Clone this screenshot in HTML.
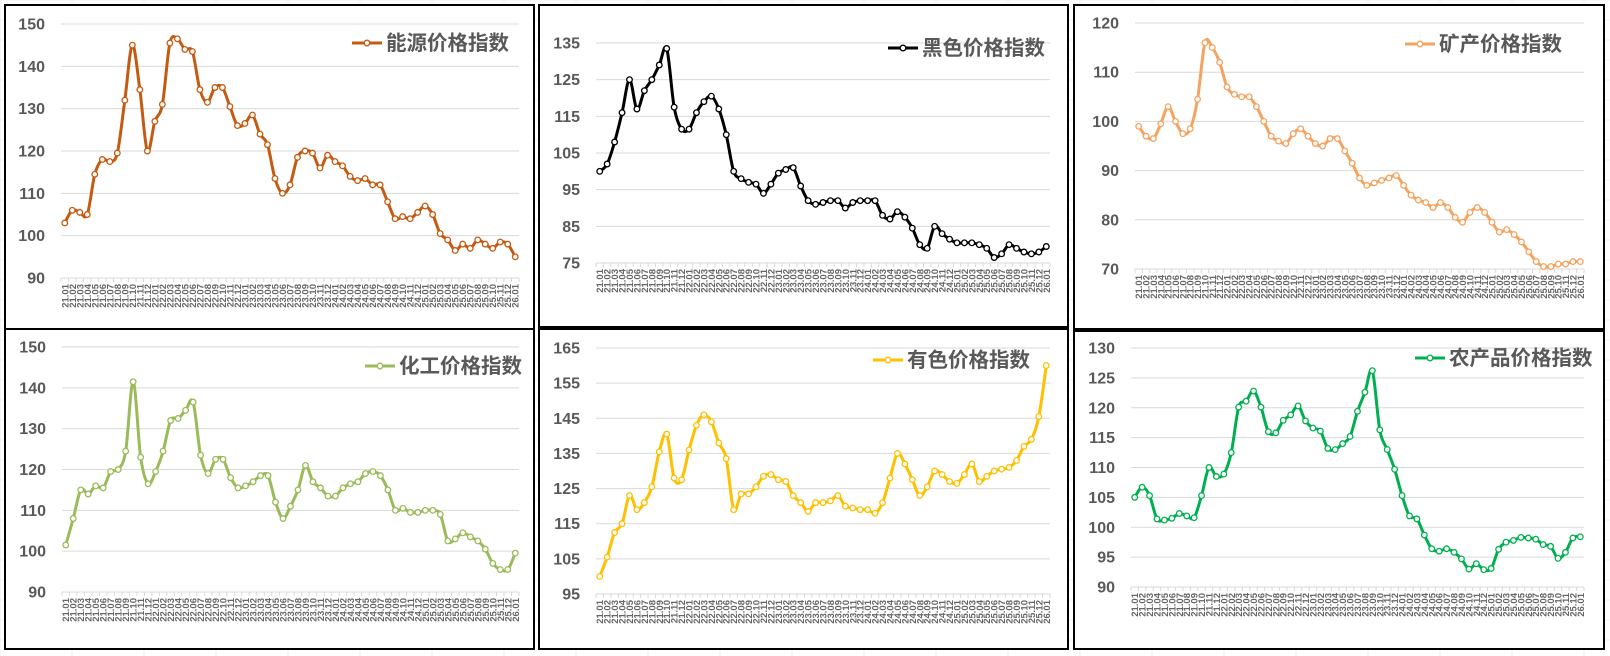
<!DOCTYPE html>
<html><head><meta charset="utf-8">
<style>
html,body{margin:0;padding:0;background:#fff;}
svg{display:block;}
text{font-family:"Liberation Sans","Noto Sans CJK SC",sans-serif;}
</style></head>
<body>
<svg id="s" width="1610" height="656" xmlns="http://www.w3.org/2000/svg"></svg>
<script>
const P=[
{box:[5,5,529,328],pl:61,pr:519,yt:24,yb:278,min:90,max:150,step:10,col:"#C55A11",name:"能源价格指数",lg:[352,43],
d:[103,106,105.5,105,114.5,118,117.5,119.5,132,145,134.5,120,127,131,145.5,146.5,144,143.5,134.5,131.5,135,135,130.5,126,126.5,128.5,124,121.5,113.5,110,112,118.5,120,119.5,116,119,117.5,116.5,114,113,113.5,112,112,108,104,104.5,104,105.5,107,105,100.5,99,96.5,98,97,99,98,97,98.5,98,95]},
{box:[539,5,529,322],pl:596,pr:1050,yt:43,yb:263,min:75,max:135,step:10,col:"#000000",name:"黑色价格指数",lg:[888,48],
d:[100,102,108,116,125,117,122,125,129,133.5,117.5,111.5,111.5,116,119,120.5,117,110,100,98,97,96.5,94,96.5,99.5,100.5,101,96,92,91,91.5,92,92,90,91.5,92,92,92,88,87,89,87.5,84.5,80,79,85,83,81.5,80.5,80.5,80.5,80,79,76.5,77.5,80,79,78,77.5,78,79.5]},
{box:[1074,5,530,324],pl:1135,pr:1584,yt:23,yb:269,min:70,max:120,step:10,col:"#F4A460",name:"矿产价格指数",lg:[1405,44],
d:[99,97,96.5,99.5,103,100,97.5,98.5,104.5,116,115,112,107,105.5,105,105,103,100,97,96,95.5,97.5,98.5,97,95.5,95,96.5,96.5,94,91.5,88.5,87,87.5,88,88.5,89,87,85,84,83.5,82.5,83.5,82.5,80.5,79.5,81.5,82.5,81.5,79.5,77.5,78,77,75.5,73.5,71.5,70.5,70.5,71,71,71.5,71.5]},
{box:[5,329,529,320],pl:62,pr:519,yt:347,yb:592,min:90,max:150,step:10,col:"#9BBB59",name:"化工价格指数",lg:[365,366],
d:[101.5,108,115,114,116,115.5,119.5,120,124.5,141.5,123,116.5,119.5,124.5,132,132.5,134.5,136.5,123.5,119,122.5,122.5,118,115.5,116,117,118.5,118.5,112,108,111,115,121,117,115.5,113.5,113.5,115.5,116.5,117,119,119.5,118.5,115,110,110.5,109.5,109.5,110,110,109,102.5,103,104.5,103.5,102.5,100.5,97,95.5,95.5,99.5]},
{box:[539,329,529,320],pl:596,pr:1050,yt:348,yb:594,min:95,max:165,step:10,col:"#FFC000",name:"有色价格指数",lg:[873,360],
d:[100,105.5,112.5,115,123,119,121,125.5,135.5,140.5,128,127.5,136,143,146,144,138,133.5,119,123.5,123.5,125.5,128.5,129,127.5,127,123,121,118.5,121,121,121.5,123,120,119.5,119,119,118,121,128,135,132,127.5,123,125.5,130,129,127,126.5,129,132,127,128.5,130,130.5,131,133,137,139,145.5,160]},
{box:[1074,331,530,318],pl:1131,pr:1584,yt:348,yb:587,min:90,max:130,step:5,col:"#00B050",name:"农产品价格指数",lg:[1415,358],
d:[105,106.7,105.3,101.4,101.2,101.5,102.3,101.9,101.6,105.3,110,108.5,108.9,112.5,120.1,121.1,122.8,120.1,116,115.8,117.9,118.8,120.3,117.8,116.6,116.1,113.2,113,114,115.2,119.4,122.6,126.2,116.3,113,109.7,105.3,101.9,101.4,98.7,96.4,96,96.4,95.8,94.7,93,93.9,92.9,93.1,96.3,97.5,97.8,98.3,98.2,98,97.1,96.8,94.8,95.8,98.2,98.4]}
];
const labs=[];for(let y=21;y<=26;y++)for(let m=1;m<=12;m++){if(labs.length<61)labs.push(y+"."+String(m).padStart(2,"0"));}
let h='';
for(let x=0;x<1610;x+=72)h+=`<line x1="${x}" y1="0" x2="${x}" y2="656" stroke="#ececec" stroke-width="1"/>`;
for(let y=0;y<656;y+=20)h+=`<line x1="0" y1="${y}" x2="1610" y2="${y}" stroke="#f2f2f2" stroke-width="1"/>`;
for(const p of P){
 const [bx,by,bw,bh]=p.box;
 h+=`<rect x="${bx}" y="${by}" width="${bw}" height="${bh}" fill="#fff" stroke="#000" stroke-width="2"/>`;
 const Y=v=>p.yb-(v-p.min)/(p.max-p.min)*(p.yb-p.yt);
 for(let v=p.min;v<=p.max+0.01;v+=p.step){
  const y=Y(v);
  h+=`<line x1="${p.pl}" y1="${y}" x2="${p.pr}" y2="${y}" stroke="#d9d9d9" stroke-width="1"/>`;
  h+=`<text x="${p.pl-16}" y="${y+5.5}" text-anchor="end" font-size="16" font-weight="bold" fill="#595959">${v}</text>`;
 }
 const n=p.d.length, dx=(p.pr-p.pl)/(n);
 const X=i=>p.pl+dx*(i+0.5);
 for(let i=0;i<=n;i++){const x=p.pl+dx*i;h+=`<line x1="${x}" y1="${p.yb}" x2="${x}" y2="${p.yb+4}" stroke="#d9d9d9"/>`;}
 for(let i=0;i<n;i++){const x=X(i)+3.5,y=p.yb+6;
  h+=`<text transform="translate(${x},${y}) rotate(-90)" text-anchor="end" font-size="9.5" font-weight="bold" fill="#666">${labs[i]}</text>`;}
 const pts=p.d.map((v,i)=>[X(i),Y(v)]);
 let path=`M${pts[0][0]},${pts[0][1]}`;
 for(let i=0;i<n-1;i++){const p0=pts[Math.max(0,i-1)],p1=pts[i],p2=pts[i+1],p3=pts[Math.min(n-1,i+2)];const t=1/6;
  path+=` C${p1[0]+(p2[0]-p0[0])*t},${p1[1]+(p2[1]-p0[1])*t} ${p2[0]-(p3[0]-p1[0])*t},${p2[1]-(p3[1]-p1[1])*t} ${p2[0]},${p2[1]}`;}
 h+=`<path d="${path}" fill="none" stroke="${p.col}" stroke-width="3" stroke-linejoin="round"/>`;
 for(const q of pts)h+=`<circle cx="${q[0]}" cy="${q[1]}" r="2.8" fill="#fff" stroke="${p.col}" stroke-width="1.3"/>`;
 const [lx,ly]=p.lg;
 h+=`<line x1="${lx}" y1="${ly}" x2="${lx+30}" y2="${ly}" stroke="${p.col}" stroke-width="3"/><circle cx="${lx+15}" cy="${ly}" r="2.8" fill="#fff" stroke="${p.col}" stroke-width="1.3"/>`;
 h+=`<text x="${lx+34}" y="${ly+7}" font-size="20.5" font-weight="bold" fill="#595959">${p.name}</text>`;
}
document.getElementById('s').innerHTML=h;
</script>
</body></html>
